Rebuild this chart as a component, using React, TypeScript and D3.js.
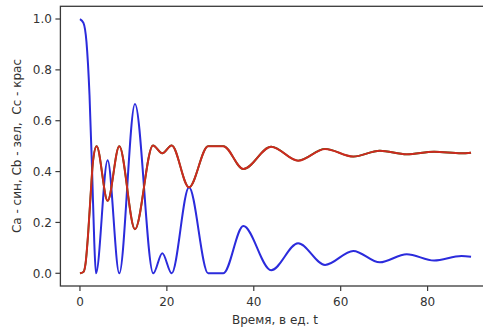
import React, { useEffect, useRef } from 'react';
import * as d3 from 'd3';

// time points (extrema + a few shape points)
const caT = [0, 0.8, 1.5, 2.2, 2.8, 3.3, 3.68, 6.37, 9.05, 12.66, 16.87, 18.95, 21.1, 25.1, 29.5, 33, 37.6, 44.0, 50.2, 56.4, 62.9, 69.0, 75.2, 81.5, 87.8, 90];
const caV = [1.0, 0.985, 0.91, 0.7, 0.4, 0.12, 0.0, 0.445, 0.0, 0.666, 0.0, 0.079, 0.0, 0.338, 0.0, 0.0, 0.186, 0.012, 0.118, 0.033, 0.088, 0.043, 0.075, 0.05, 0.068, 0.065];

const ccT = [0, 0.8, 1.3, 1.9, 2.5, 3.0, 3.83, 6.37, 9.05, 12.66, 16.8, 18.95, 21.1, 25.1, 29.5, 33, 37.6, 44.0, 50.2, 56.4, 62.9, 69.0, 75.2, 81.5, 87.8, 90];
const ccV = [0.0, 0.005, 0.04, 0.16, 0.32, 0.44, 0.5, 0.285, 0.5, 0.173, 0.503, 0.472, 0.503, 0.338, 0.5, 0.5, 0.41, 0.498, 0.443, 0.489, 0.459, 0.482, 0.468, 0.478, 0.472, 0.474];

const xTicks = [0, 20, 40, 60, 80];
const yTicks = [0, 0.2, 0.4, 0.6, 0.8, 1.0];

const W = 483;
const H = 335;

export default function App() {
  const ref = useRef<SVGSVGElement>(null);

  useEffect(() => {
    const svg = d3.select(ref.current);
    svg.selectAll('*').remove();

    const left = 60.4, right = 490.6, top = 6.3, bottom = 286;
    const x = d3.scaleLinear().domain([-4.5, 94.5]).range([left, right]);
    const y = d3.scaleLinear().domain([-0.05, 1.05]).range([bottom, top]);

    const font = 'DejaVu Sans, sans-serif';

    const line = d3.line<[number, number]>()
      .x(d => x(d[0]))
      .y(d => y(d[1]))
      .curve(d3.curveMonotoneX);

    const ca = caT.map((t, i) => [t, caV[i]] as [number, number]);
    const cc = ccT.map((t, i) => [t, ccV[i]] as [number, number]);

    const plot = svg.append('g');
    plot.append('path').attr('d', line(ca)).attr('fill', 'none')
      .attr('stroke', '#2b2bdc').attr('stroke-width', 2);
    // Cb (green) lies under Cc
    plot.append('path').attr('d', line(cc)).attr('fill', 'none')
      .attr('stroke', '#1a7a1a').attr('stroke-width', 1.8);
    plot.append('path').attr('d', line(cc)).attr('fill', 'none')
      .attr('stroke', '#cc2a1f').attr('stroke-width', 2);

    // frame
    svg.append('rect')
      .attr('x', left).attr('y', top)
      .attr('width', right - left).attr('height', bottom - top)
      .attr('fill', 'none').attr('stroke', '#3a3a3a').attr('stroke-width', 1.3);

    // x ticks
    const xg = svg.append('g');
    xTicks.forEach(t => {
      xg.append('line').attr('x1', x(t)).attr('x2', x(t))
        .attr('y1', bottom).attr('y2', bottom + 5)
        .attr('stroke', '#3a3a3a').attr('stroke-width', 1.2);
      xg.append('text').attr('x', x(t)).attr('y', 306)
        .attr('text-anchor', 'middle').attr('font-family', font)
        .attr('font-size', 12).attr('fill', '#333').text(String(t));
    });

    // y ticks
    const yg = svg.append('g');
    yTicks.forEach(v => {
      yg.append('line').attr('x1', left - 5).attr('x2', left)
        .attr('y1', y(v)).attr('y2', y(v))
        .attr('stroke', '#3a3a3a').attr('stroke-width', 1.2);
      yg.append('text').attr('x', left - 8.5).attr('y', y(v) + 4.3)
        .attr('text-anchor', 'end').attr('font-family', font)
        .attr('font-size', 12).attr('fill', '#333').text(v.toFixed(1));
    });

    svg.append('text').attr('x', 275).attr('y', 324)
      .attr('text-anchor', 'middle').attr('font-family', font)
      .attr('font-size', 12).attr('fill', '#333').text('Время, в ед. t');

    svg.append('text')
      .attr('transform', 'translate(21,146) rotate(-90)')
      .attr('text-anchor', 'middle').attr('font-family', font)
      .attr('font-size', 12).attr('fill', '#333')
      .attr('xml:space', 'preserve')
      .style('white-space', 'pre')
      .text('Ca - син, Cb - зел,  Cc - крас');
  }, []);

  return (
    <svg ref={ref} width={W} height={H}
      style={{ position: 'absolute', left: 0, top: 0, background: '#fff' }} />
  );
}
